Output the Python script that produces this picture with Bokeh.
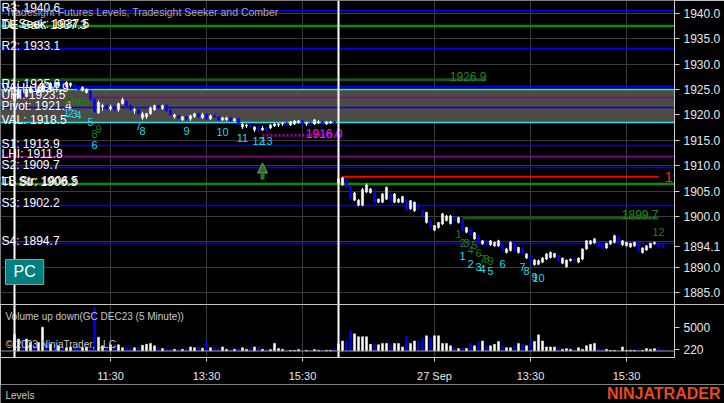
from bokeh.plotting import figure
from bokeh.layouts import column
from bokeh.models import (Range1d, FixedTicker, Span, Label, BoxAnnotation, Arrow,
                          NormalHead, ColumnDataSource, PrintfTickFormatter)
from bokeh.core.properties import value
from bokeh.embed import file_html
from bokeh.resources import INLINE

FONT = "Liberation Sans"

# ---------------- data ----------------
opens = [1922.8, 1923.4, 1924.8, 1923.6, 1924.4, 1925.4, 1924.4, 1924.8, 1925.8, 1925.0,
         1926.6, 1925.8, 1926.6, 1925.6, 1925.8, 1926.0, 1925.6, 1924.8, 1924.4, 1924.6,
         1923.0, 1920.4, 1921.6, 1921.8, 1921.2, 1921.6, 1921.0, 1922.2, 1922.6, 1921.8,
         1920.8, 1921.0, 1919.4, 1919.6, 1920.2, 1921.0, 1921.8, 1921.2, 1921.8, 1920.8,
         1919.6, 1919.8, 1919.0, 1919.6, 1919.2, 1919.6, 1920.2, 1919.4, 1920.0, 1919.2,
         1919.8, 1919.6, 1919.0, 1919.0, 1919.4, 1918.8, 1919.2, 1917.6, 1917.8, 1918.0,
         1917.0, 1917.6, 1917.0, 1917.4, 1917.4, 1917.8, 1918.0, 1918.2, 1918.4, 1918.0,
         1918.2, 1918.6, 1918.8, 1918.2, 1918.4, 1918.2, 1918.4, 1918.6, 1918.2, 1918.4,
         1918.6,
         1906.6, 1906.2, 1907.0, 1906.0, 1903.2, 1902.2, 1902.2, 1904.8, 1904.7, 1905.1,
         1902.8, 1902.8, 1903.4, 1904.4, 1902.8, 1902.8, 1902.8, 1903.2, 1901.5, 1901.1,
         1902.4, 1901.3, 1898.8, 1899.2, 1897.3, 1897.8, 1898.5, 1899.2, 1898.6, 1899.8,
         1898.8, 1899.3, 1896.9, 1897.5, 1895.6, 1896.2, 1894.6, 1895.1, 1894.4, 1894.2,
         1894.2, 1894.4, 1892.9, 1893.3, 1894.9, 1892.9, 1893.8, 1891.8, 1892.3, 1890.5,
         1890.6, 1891.0, 1891.6, 1891.9, 1892.0, 1892.3, 1890.8, 1890.1, 1891.3, 1891.6,
         1891.0, 1891.6, 1893.6, 1894.6, 1894.8, 1894.9, 1894.6, 1893.8, 1894.6, 1894.9,
         1895.9, 1894.4, 1894.2, 1894.0, 1894.2, 1894.7, 1892.9, 1893.4, 1893.9, 1894.6,
         1894.6, 1894.4]
highs = [1924.6, 1925.2, 1925.0, 1925.4, 1925.8, 1925.6, 1925.6, 1926.2, 1926.0, 1926.4,
         1926.8, 1926.6, 1926.8, 1926.6, 1926.4, 1926.2, 1925.8, 1925.6, 1925.2, 1925.0,
         1923.4, 1922.8, 1922.2, 1922.0, 1922.0, 1921.8, 1922.4, 1923.4, 1923.0, 1922.0,
         1921.4, 1921.2, 1920.6, 1920.4, 1921.6, 1922.0, 1922.0, 1922.0, 1922.0, 1921.2,
         1920.2, 1920.0, 1919.8, 1919.8, 1920.0, 1920.4, 1920.4, 1920.4, 1920.4, 1920.0,
         1920.2, 1919.8, 1919.6, 1919.6, 1919.6, 1919.4, 1919.4, 1918.4, 1918.2, 1918.2,
         1917.8, 1917.8, 1917.8, 1917.6, 1918.2, 1918.4, 1918.4, 1918.6, 1918.6, 1918.8,
         1919.0, 1919.0, 1919.0, 1918.6, 1918.6, 1919.2, 1919.0, 1918.8, 1918.8, 1918.8,
         1918.8,
         1907.8, 1907.8, 1907.2, 1906.2, 1904.8, 1903.4, 1905.6, 1906.5, 1905.6, 1905.3,
         1903.5, 1904.6, 1905.9, 1904.6, 1904.6, 1903.6, 1904.0, 1903.4, 1903.2, 1902.9,
         1902.6, 1901.5, 1900.9, 1899.4, 1898.3, 1898.9, 1900.7, 1900.3, 1900.3, 1900.0,
         1899.9, 1899.5, 1897.9, 1897.7, 1896.9, 1896.4, 1895.3, 1895.3, 1895.3, 1895.0,
         1895.4, 1894.6, 1893.8, 1895.1, 1895.1, 1894.0, 1894.0, 1892.8, 1892.5, 1891.6,
         1891.5, 1892.0, 1892.8, 1893.1, 1892.8, 1892.5, 1891.9, 1891.5, 1891.7, 1891.8,
         1891.9, 1893.7, 1895.3, 1895.3, 1895.7, 1895.1, 1894.8, 1894.8, 1895.3, 1896.4,
         1896.1, 1895.3, 1894.9, 1894.8, 1895.0, 1894.9, 1893.9, 1894.3, 1894.8, 1895.0,
         1894.8, 1894.5]
lows = [1922.6, 1923.2, 1923.4, 1923.4, 1924.2, 1924.2, 1924.2, 1924.6, 1924.8, 1924.8,
        1925.8, 1925.6, 1925.6, 1925.4, 1925.4, 1925.2, 1924.8, 1924.6, 1924.2, 1922.8,
        1920.4, 1920.2, 1920.8, 1921.0, 1920.8, 1920.8, 1920.6, 1922.0, 1921.6, 1920.8,
        1920.2, 1920.0, 1919.0, 1919.2, 1920.0, 1920.8, 1921.2, 1921.0, 1920.6, 1919.8,
        1919.2, 1919.2, 1918.8, 1919.0, 1918.8, 1919.4, 1919.4, 1919.2, 1919.0, 1919.0,
        1919.4, 1918.8, 1918.8, 1918.8, 1918.6, 1918.6, 1918.0, 1917.2, 1917.4, 1917.4,
        1916.6, 1916.8, 1916.8, 1916.6, 1917.2, 1917.6, 1917.6, 1917.8, 1917.8, 1917.8,
        1918.0, 1918.2, 1918.0, 1917.8, 1918.0, 1918.0, 1918.2, 1918.0, 1918.0, 1918.2,
        1918.2,
        1906.4, 1906.0, 1905.6, 1903.2, 1903.0, 1902.0, 1902.0, 1904.6, 1904.5, 1902.6,
        1902.6, 1902.6, 1903.2, 1903.0, 1902.6, 1902.6, 1902.6, 1901.1, 1901.3, 1900.9,
        1901.3, 1900.0, 1898.6, 1897.6, 1897.1, 1897.6, 1898.3, 1899.0, 1898.4, 1899.0,
        1898.6, 1897.0, 1896.7, 1896.2, 1895.4, 1894.7, 1894.4, 1894.4, 1894.2, 1894.0,
        1894.0, 1893.1, 1892.7, 1893.1, 1893.1, 1892.7, 1892.5, 1891.6, 1890.6, 1890.3,
        1890.4, 1890.8, 1891.4, 1891.7, 1891.8, 1891.0, 1890.6, 1889.9, 1891.1, 1891.1,
        1890.8, 1891.4, 1893.4, 1894.4, 1894.6, 1893.9, 1893.6, 1893.6, 1894.4, 1894.7,
        1894.7, 1894.2, 1894.0, 1893.8, 1894.0, 1893.1, 1892.7, 1893.2, 1893.7, 1894.4,
        1894.0, 1893.8]
closes = [1924.2, 1924.8, 1923.6, 1925.0, 1925.4, 1924.4, 1925.2, 1925.8, 1925.0, 1926.2,
          1926.0, 1926.4, 1925.8, 1926.4, 1926.2, 1925.4, 1925.0, 1925.4, 1925.0, 1923.0,
          1920.6, 1922.4, 1921.8, 1921.2, 1921.6, 1921.0, 1922.2, 1923.0, 1921.8, 1921.0,
          1921.0, 1920.2, 1920.2, 1920.2, 1921.4, 1921.8, 1921.4, 1921.8, 1920.8, 1920.0,
          1920.0, 1919.4, 1919.6, 1919.2, 1919.8, 1920.2, 1919.6, 1920.0, 1919.2, 1919.8,
          1919.6, 1919.0, 1919.4, 1919.4, 1918.8, 1919.2, 1918.2, 1918.2, 1918.0, 1917.6,
          1917.6, 1917.0, 1917.4, 1916.8, 1918.0, 1918.2, 1918.2, 1918.4, 1918.0, 1918.6,
          1918.8, 1918.8, 1918.2, 1918.4, 1918.2, 1919.0, 1918.6, 1918.2, 1918.6, 1918.6,
          1918.4,
          1907.4, 1907.6, 1905.8, 1903.5, 1904.6, 1903.2, 1905.3, 1906.2, 1905.4, 1902.8,
          1903.4, 1904.4, 1905.7, 1903.2, 1904.4, 1903.4, 1903.9, 1901.3, 1903.1, 1902.8,
          1901.5, 1900.1, 1900.8, 1897.8, 1898.2, 1898.8, 1900.5, 1900.1, 1900.1, 1899.2,
          1899.8, 1897.2, 1897.8, 1896.4, 1896.8, 1894.9, 1895.2, 1894.6, 1895.2, 1894.9,
          1895.2, 1893.3, 1893.6, 1894.9, 1893.3, 1893.9, 1892.7, 1892.6, 1890.8, 1891.4,
          1891.3, 1891.8, 1892.6, 1892.9, 1892.7, 1891.2, 1891.8, 1891.4, 1891.6, 1891.3,
          1891.8, 1893.6, 1895.2, 1895.2, 1895.6, 1894.0, 1893.8, 1894.7, 1895.2, 1896.2,
          1894.9, 1895.2, 1894.9, 1894.7, 1894.9, 1893.3, 1893.8, 1894.2, 1894.7, 1894.9,
          1894.2, 1894.1]
volumes = [3500, 2500, 2400, 2500, 1800, 1400, 1800, 5000, 1800, 1400,
           1500, 1100, 700, 700, 850, 850, 700, 700, 850, 700,
           9100, 2900, 1100, 850, 1300, 1300, 1300, 700, 700, 700,
           700, 850, 1200, 1400, 1600, 1100, 700, 500, 600, 350,
           350, 400, 350, 500, 850, 700, 850, 600, 2100, 700,
           700, 500, 850, 350, 350, 350, 500, 700, 350, 700,
           850, 850, 350, 350, 300, 1600, 500, 350, 150, 150,
           150, 300, 150, 150, 150, 300, 150, 150, 150, 150,
           500,
           1500, 2100, 2100, 4300, 3600, 3000, 3000, 3000, 1400, 1400,
           1300, 1600, 1600, 1400, 1600, 1600, 850, 3100, 1600, 2100,
           2100, 2700, 3200, 2900, 3200, 3200, 1600, 1600, 1100, 700,
           500, 700, 500, 1600, 1100, 2000, 2100, 1100, 1100, 1400,
           2000, 1100, 700, 700, 1100, 1600, 1400, 1100, 1800, 2000,
           3400, 2100, 850, 850, 850, 600, 350, 500, 350, 350,
           700, 350, 1100, 1400, 1600, 500, 350, 350, 150, 150,
           150, 850, 150, 150, 150, 350, 150, 500, 350, 500,
           700, 220]

session_start_idx = [0, 81]
time_tick_idx = [24, 48, 72, 105, 129, 153]
time_tick_labels = ["11:30", "13:30", "15:30", "27 Sep", "13:30", "15:30"]
price_grid = [1885, 1890, 1895, 1900, 1905, 1910, 1915, 1920, 1925, 1930, 1935, 1940]
price_labels = [1885, 1890, 1900, 1905, 1910, 1915, 1920, 1925, 1930, 1935, 1940]
volume_ticks = [5000]

level_names = ["R3", "TL Seek", "DE Gak", "R2", "R1", "VAH", "UHI", "Pivot", "VAL",
               "S1", "LHI", "S2", "TL Str", "LB Str", "S3", "S4"]
level_prices = [1940.6, 1937.5, 1937.3, 1933.1, 1925.6, 1924.9, 1923.5, 1921.4, 1918.5,
                1913.9, 1911.8, 1909.7, 1906.3, 1906.5, 1902.2, 1894.7]
level_colors = ["#0000ff", "#0c8a0c", "#0c8a0c", "#0000ff", "#0000ff", "#22e6e6", "#8a008a",
                "#0000ff", "#22e6e6", "#0000ff", "#8a008a", "#0000ff", "#0c8a0c", "#0c8a0c",
                "#0000ff", "#0000ff"]
value_area = (1918.5, 1924.9)

seeker_lines_price = [1926.9, 1899.7]
seeker_lines_start = [-4, 112]
seeker_lines_end = [118, 161]
target_price, target_start, target_end = 1907.8, 82, 161
stop_price, stop_start, stop_end = 1916.0, 62, 82
signal_idx, signal_low, signal_high = 62, 1907.2, 1910.5

seeker_text = ["1", "2", "3", "4", "5", "6", "7", "8", "9",
               "1", "2", "3", "4", "5", "6", "7", "8", "9", "12"]
seeker_idx = [13, 14, 15, 16, 17, 18, 19, 20, 21,
              111, 112, 113, 114, 115, 116, 117, 118, 119, 161]
seeker_price = [1922.9, 1922.9, 1922.8, 1922.8, 1922.7, 1922.7, 1920.4, 1916.3, 1917.3,
                1896.6, 1894.7, 1894.7, 1893.3, 1894.3, 1892.7, 1891.7, 1891.7, 1891.3, 1897.0]
comber_text = ["1", "2", "3", "4", "5", "6", "7", "8", "9", "10", "11", "12", "13",
               "1", "2", "3", "4", "5", "6", "7", "8", "9", "10"]
comber_idx = [13, 14, 15, 16, 19, 20, 31, 32, 43, 52, 57, 61, 63,
              112, 114, 116, 117, 119, 122, 127, 128, 130, 131]
comber_price = [1920.3, 1920.3, 1920.1, 1919.9, 1918.5, 1914.0, 1917.7, 1916.9, 1916.9,
                1916.7, 1915.5, 1914.9, 1914.9,
                1892.3, 1890.7, 1890.1, 1889.7, 1889.3, 1890.7, 1890.1, 1889.3, 1888.1, 1887.9]

# ---------------- derived ----------------
n = len(opens)
idx = list(range(n))
up = [c >= o for o, c in zip(opens, closes)]
bar_color = ["#ffffff" if u else "#0000ff" for u in up]
bars = ColumnDataSource(dict(
    x=idx, high=highs, low=lows,
    top=[max(o, c) for o, c in zip(opens, closes)],
    bottom=[min(o, c) for o, c in zip(opens, closes)],
    color=bar_color, vol=volumes))
last_price = closes[-1]
last_volume = volumes[-1]

x_rng = Range1d(-3.5, 165)
BG = "#000000"
GRID = "#3a3a3a"
AXIS = "#cfcfcf"
LBL = "#e6e6e6"
FRAME_W = 674

# ---------------- price panel ----------------
p = figure(frame_width=FRAME_W, frame_height=304, x_range=x_rng, y_range=Range1d(1882.66, 1942.5),
           output_backend="svg", toolbar_location=None, background_fill_color=BG,
           border_fill_color=BG, min_border_left=0, min_border_right=50, min_border_top=0,
           min_border_bottom=0, y_axis_location="right", x_axis_location=None)
p.outline_line_color = None
ya = p.yaxis[0]
ya.ticker = FixedTicker(ticks=sorted(price_labels + [last_price]))
ya.formatter = PrintfTickFormatter(format="%.1f")
ya.major_label_text_color = LBL
ya.major_label_text_font = FONT
ya.major_label_text_font_size = "12px"
ya.axis_line_color = AXIS
ya.major_tick_line_color = AXIS
ya.major_tick_out = 5
ya.major_tick_in = 0
ya.minor_tick_line_color = None
ya.major_label_standoff = 4
p.ygrid.ticker = FixedTicker(ticks=price_grid)
p.ygrid.grid_line_color = GRID
p.xgrid.ticker = FixedTicker(ticks=time_tick_idx)
p.xgrid.grid_line_color = GRID

p.add_layout(BoxAnnotation(bottom=value_area[0], top=value_area[1], fill_color="#4d4b45",
                           fill_alpha=1.0, line_color=None, level="underlay"))
for s in session_start_idx:
    p.add_layout(Span(location=s, dimension="height", line_color="#ffffff", line_width=2))

lv = ColumnDataSource(dict(y=level_prices, color=level_colors,
                           label=[f"{nm}: {pr:.1f}" for nm, pr in zip(level_names, level_prices)],
                           x=[x_rng.start + 0.25] * len(level_prices)))
p.hspan(y="y", line_color="color", line_width=1.6, source=lv)

# seeker/comber lines
p.segment(x0=seeker_lines_start, x1=seeker_lines_end, y0=seeker_lines_price,
          y1=seeker_lines_price, line_color="#1c501c", line_width=3)
p.text(x=seeker_lines_end, y=seeker_lines_price, text=[f"{v:.1f}" for v in seeker_lines_price],
       text_align="right", text_baseline="alphabetic", y_offset=-3, text_color="#1e8c1e",
       text_font=value(FONT), text_font_size="12px")
p.segment(x0=[target_start], x1=[target_end], y0=[target_price], y1=[target_price],
          line_color="#ff0000", line_width=2)
p.text(x=[target_end + 1.5], y=[target_price], text=[f"{target_price:.1f}"], text_align="left",
       text_baseline="middle", text_color="#ff2a00", text_font=value(FONT), text_font_size="15px")
p.segment(x0=[stop_start], x1=[stop_end], y0=[stop_price], y1=[stop_price],
          line_color="#a000a0", line_width=3, line_dash="2 2")
p.text(x=[stop_end], y=[stop_price], text=[f"{stop_price:.1f}"], text_align="right",
       text_baseline="alphabetic", y_offset=-2, text_color="#ff10ff", text_font=value(FONT),
       text_font_size="12px")

# bars
p.segment(x0="x", x1="x", y0="low", y1="high", line_color="color", line_width=1, source=bars)
p.vbar(x="x", top="top", bottom="bottom", width=0.55, fill_color="color", line_color="color",
       line_width=0.5, source=bars)

# level labels
p.text(x="x", y="y", text="label", text_align="left", text_baseline="alphabetic", y_offset=-2,
       text_color="#ffffff", text_font=value(FONT), text_font_size="12px", source=lv)

# counts
p.text(x=seeker_idx, y=seeker_price, text=seeker_text, text_align="center", text_baseline="middle",
       text_color="#1e7d1e", text_font=value(FONT), text_font_size="11px")
p.text(x=comber_idx, y=comber_price, text=comber_text, text_align="center", text_baseline="middle",
       text_color="#22d8e6", text_font=value(FONT), text_font_size="11px")

# signal arrow
p.add_layout(Arrow(end=NormalHead(size=10, fill_color="#1f7a1f", line_color="#8a8a8a", line_width=1),
                   x_start=signal_idx, y_start=signal_low, x_end=signal_idx, y_end=signal_high,
                   line_color="#1f7a1f", line_width=4))

# title
p.text(x=[x_rng.start + 1.25], y=[1940.3], text=["Tradesight Futures Levels, Tradesight Seeker and Comber"],
       text_align="left", text_baseline="middle", text_color="#a8a8a8", text_font=value(FONT),
       text_font_size="10.5px")

p.add_layout(Label(x=x_rng.start + 1.25, y=1886.6, text="PC", text_color="#ffffff",
                   text_font=FONT, text_font_size="16px", text_baseline="bottom",
                   background_fill_color="#008080", border_line_color="#9a9a9a",
                   padding=dict(left=8, right=8, top=4, bottom=4)))

# ---------------- volume panel ----------------
v = figure(frame_width=FRAME_W, frame_height=53, x_range=x_rng, y_range=Range1d(-1366, 9770),
           output_backend="svg", toolbar_location=None, background_fill_color=BG,
           border_fill_color=BG, min_border_left=0, min_border_right=50, min_border_top=0,
           min_border_bottom=0, y_axis_location="right", x_axis_location="below")
v.outline_line_color = "#c8c8c8"
vy = v.yaxis[0]
vy.ticker = FixedTicker(ticks=sorted(volume_ticks + [last_volume]))
vy.major_label_text_color = LBL
vy.major_label_text_font = FONT
vy.major_label_text_font_size = "12px"
vy.axis_line_color = AXIS
vy.major_tick_line_color = AXIS
vy.major_tick_out = 5
vy.major_tick_in = 0
vy.minor_tick_line_color = None
vy.major_label_standoff = 4
vx = v.xaxis[0]
vx.ticker = FixedTicker(ticks=time_tick_idx)
vx.major_label_overrides = {t: l for t, l in zip(time_tick_idx, time_tick_labels)}
vx.major_label_text_color = LBL
vx.major_label_text_font = FONT
vx.major_label_text_font_size = "11px"
vx.axis_line_color = AXIS
vx.major_tick_line_color = AXIS
vx.major_tick_out = 4
vx.major_tick_in = 0
vx.minor_tick_line_color = None
vx.major_label_standoff = 8
v.xgrid.grid_line_color = GRID
v.ygrid.grid_line_color = None
for s in session_start_idx:
    v.add_layout(Span(location=s, dimension="height", line_color="#ffffff", line_width=2))
v.add_layout(Span(location=0, dimension="width", line_color="#9a9a9a", line_width=1))
v.vbar(x="x", top="vol", bottom=0, width=0.5, fill_color="color", line_color="color",
       line_width=0.5, source=bars)
v.text(x=[x_rng.start + 1.25, x_rng.start + 1.25], y=[7245, 1365],
       text=["Volume up down(GC DEC23 (5 Minute))", "\u00a9 2023 NinjaTrader, LLC"],
       text_align="left", text_baseline="middle", text_color="#c8c8c8", text_font=value(FONT),
       text_font_size="10px")

# ---------------- footer ----------------
b = figure(frame_width=724, frame_height=20, x_range=Range1d(0, 724), y_range=Range1d(0, 20),
           output_backend="svg", toolbar_location=None, background_fill_color=BG,
           border_fill_color=BG, min_border=0, x_axis_location=None, y_axis_location=None)
b.outline_line_color = None
b.xgrid.visible = False
b.ygrid.visible = False
b.text(x=[5], y=[9], text=["Levels"], text_align="left", text_baseline="middle",
       text_color="#c8c8c8", text_font=value(FONT), text_font_size="10px")
b.text(x=[720], y=[11], text=["NINJATRADER"], text_align="right", text_baseline="middle",
       text_color="#e8491d", text_font=value(FONT), text_font_size="16px", text_font_style="bold")

layout = column(p, v, b, spacing=0)
open("out.html", "w").write(file_html(layout, INLINE))
